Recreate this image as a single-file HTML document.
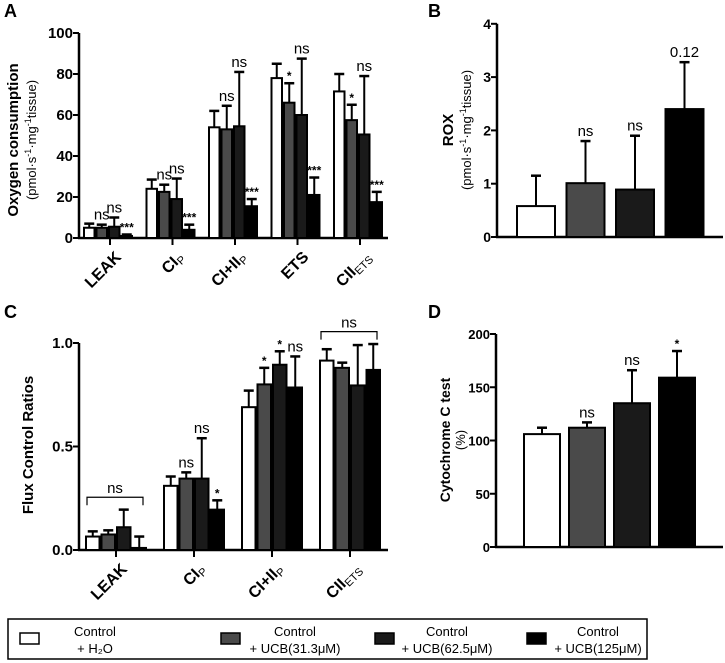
<!DOCTYPE html>
<html><head><meta charset="utf-8"><style>
body{margin:0;background:#fff;}
svg{display:block;font-family:"Liberation Sans",Arial,sans-serif;}
</style></head><body>
<svg id="fig" width="725" height="663" viewBox="0 0 725 663" xmlns="http://www.w3.org/2000/svg">
<g id="root"></g>
</svg>
<script>
const fills=['#ffffff','#4a4a4a','#1a1a1a','#000000'];
// Panel A
const aCats=['LEAK','CI_P','CI+II_P','ETS','CII_ETS'];
const aMeans=[[5,5,5.5,1],[24,22.5,19,4],[54,53,54.5,15.5],[78,66,60,21],[71.5,57.5,50.5,17.5]];
const aErrs=[[2,1.5,4.5,0.7],[4.5,3.5,10,2.5],[8,11.5,26.5,3.5],[7,9.5,27.5,8.5],[8.5,7.5,28.5,5]];
const aSig=[['','ns','ns','***'],['','ns','ns','***'],['','ns','ns','***'],['','*','ns','***'],['','*','ns','***']];
const aTicks=[0,20,40,60,80,100];
// Panel B
const bMeans=[0.58,1.01,0.89,2.4];
const bErrs=[0.57,0.79,1.01,0.88];
const bSig=['','ns','ns','0.12'];
const bTicks=[0,1,2,3,4];
// Panel C
const cCats=['LEAK','CI_P','CI+II_P','CII_ETS'];
const cMeans=[[0.065,0.075,0.11,0.01],[0.31,0.345,0.345,0.195],[0.69,0.80,0.895,0.785],[0.915,0.88,0.795,0.87]];
const cErrs=[[0.025,0.02,0.085,0.055],[0.045,0.03,0.195,0.045],[0.08,0.08,0.065,0.15],[0.055,0.025,0.195,0.125]];
const cSig=[['','','',''],['','ns','ns','*'],['','*','*','ns'],['','','','']];
const cTicks=[0,0.5,1.0];
// Panel D
const dMeans=[106,112,135,159];
const dErrs=[6,5,31,25];
const dSig=['','ns','ns','*'];
const dTicks=[0,50,100,150,200];
const legendLabels=[['Control','+ H₂O'],['Control','+ UCB(31.3μM)'],['Control','+ UCB(62.5μM)'],['Control','+ UCB(125μM)']];

const NS='http://www.w3.org/2000/svg';
const root=document.getElementById('root');
function el(tag,attrs,parent,text){const e=document.createElementNS(NS,tag);for(const k in attrs)e.setAttribute(k,attrs[k]);if(text!==undefined)e.textContent=text;(parent||root).appendChild(e);return e;}

function catLabel(g,x,y,name){
  const t=el('text',{x:x,y:y,'font-size':16,'font-weight':'bold','text-anchor':'end',transform:`rotate(-45 ${x} ${y})`},g);
  
  
  const parts=name.split('_');
  el('tspan',{},t,parts[0]);
  if(parts[1]){el('tspan',{'font-size':11,'font-weight':'normal',dy:3},t,parts[1]);}
}
function yAxis(g,x,yf,ticks,fmt,x2,fs){
  el('line',{x1:x,y1:yf(ticks[0])+1,x2:x,y2:yf(ticks[ticks.length-1]),stroke:'#000','stroke-width':2.5},g);
  el('line',{x1:x-1,y1:yf(ticks[0]),x2:x2,y2:yf(ticks[0]),stroke:'#000','stroke-width':2.5},g);
  ticks.forEach(v=>{
    el('line',{x1:x-6,y1:yf(v),x2:x,y2:yf(v),stroke:'#000','stroke-width':2},g);
    const t=el('text',{x:x-6,y:yf(v)+5,'font-size':fs||15,'font-weight':'bold','text-anchor':'end'},g,fmt(v));
    
    
  });
}
function bar(g,x,w,yf,m,e,fill,name,sig,sigSize){
  const y0=yf(0),y=yf(m),ye=yf(m+e);
  el('line',{x1:x+w/2,y1:y,x2:x+w/2,y2:ye,stroke:'#000','stroke-width':2},g);
  el('line',{x1:x+w/2-5,y1:ye,x2:x+w/2+5,y2:ye,stroke:'#000','stroke-width':2.5},g);
  const r=el('rect',{x:x+1,y:y,width:w-2,height:Math.max(0,y0-y),fill:fill,stroke:'#000','stroke-width':2},g);
  
  
  if(sig){const star=sig.indexOf('*')>=0;const t=el('text',{x:x+w/2,y:ye-(star?3:5),'font-size':star?12:sigSize,'text-anchor':'middle','font-weight':star?'bold':'normal'},g,sig);
    
    }
}
function panelLabel(x,y,s){const t=el('text',{x:x,y:y,'font-size':18,'font-weight':'bold'},root,s);
  
  }
function units(g,x,y){
  const t2=el('text',{transform:`translate(${x},${y}) rotate(-90)`,'font-size':13,'text-anchor':'middle'},g);
  
  t2.innerHTML='(pmol·s<tspan dy="-5" font-size="9">-1</tspan><tspan dy="5">·mg</tspan><tspan dy="-5" font-size="9">-1</tspan><tspan dy="5">tissue)</tspan>';
}

// ---- A
{const g=el('g',{});
 const yf=v=>238-v*2.05;
 yAxis(g,79,yf,aTicks,v=>String(v),388);
 const centers=aCats.map((c,i)=>108+i*62.5);
 aCats.forEach((c,i)=>{
  el('line',{x1:centers[i]+2,y1:238,x2:centers[i]+2,y2:245,stroke:'#000','stroke-width':2},g);
  for(let k=0;k<4;k++)bar(g,centers[i]-25+k*12.5,12.5,yf,aMeans[i][k],aErrs[i][k],fills[k],'bar-a-'+i+'-'+k,aSig[i][k],15);
  catLabel(g,centers[i]+14,258,c);
 });
 const t=el('text',{transform:'translate(18,140) rotate(-90)','font-size':15,'font-weight':'bold','text-anchor':'middle'},g,'Oxygen consumption');
 
 units(g,36,140);
}
panelLabel(4,17,'A');
// ---- B
{const g=el('g',{});
 const yf=v=>237-v*53.3;
 yAxis(g,497,yf,bTicks,v=>String(v),723,14);
 bMeans.forEach((m,k)=>bar(g,516+k*49.5,40,yf,m,bErrs[k],fills[k],'bar-b-'+k,bSig[k],15));
 const t=el('text',{transform:'translate(453,130) rotate(-90)','font-size':15,'font-weight':'bold','text-anchor':'middle'},g,'ROX');
 
 units(g,471,130);
}
panelLabel(428,17,'B');
// ---- C
{const g=el('g',{});
 const yf=v=>550-v*207;
 yAxis(g,79,yf,cTicks,v=>v.toFixed(1),388);
 const centers=cCats.map((c,i)=>116+i*78);
 cCats.forEach((c,i)=>{
  el('line',{x1:centers[i],y1:550,x2:centers[i],y2:557,stroke:'#000','stroke-width':2},g);
  for(let k=0;k<4;k++)bar(g,centers[i]-31+k*15.5,15.5,yf,cMeans[i][k],cErrs[i][k],fills[k],'bar-c-'+i+'-'+k,cSig[i][k],15);
  catLabel(g,centers[i]+12,570,c);
 });
 [[0,yf(0.255)],[3,yf(1.055)]].forEach(([i,y])=>{
  const x1=centers[i]-29,x2=centers[i]+27;
  const p=el('path',{d:`M${x1} ${y+8}V${y}H${x2}V${y+8}`,fill:'none',stroke:'#000','stroke-width':1.2},g);
  
  el('text',{x:(x1+x2)/2,y:y-4,'font-size':15,'text-anchor':'middle'},g,'ns');
 });
 const t=el('text',{transform:'translate(33,445) rotate(-90)','font-size':15,'font-weight':'bold','text-anchor':'middle'},g,'Flux Control Ratios');
 
}
panelLabel(4,318,'C');
// ---- D
{const g=el('g',{});
 const yf=v=>547-v*1.065;
 yAxis(g,496,yf,dTicks,v=>String(v),723,13);
 dMeans.forEach((m,k)=>bar(g,523+k*45,38,yf,m,dErrs[k],fills[k],'bar-d-'+k,dSig[k],15));
 const t=el('text',{transform:'translate(450,440) rotate(-90)','font-size':14,'font-weight':'bold','text-anchor':'middle'},g,'Cytochrome  C test');
 
 const t2=el('text',{transform:'translate(465,440) rotate(-90)','font-size':13,'text-anchor':'middle'},g,'(%)');
 
}
panelLabel(428,318,'D');
// ---- Legend
{const g=el('g',{});
 el('rect',{x:8,y:619,width:639,height:40,fill:'#fff',stroke:'#000','stroke-width':1.5},g);
 const sx=[20,221,375,527],tx=[95,295,447,598];
 legendLabels.forEach((lab,k)=>{
  const r=el('rect',{x:sx[k],y:633,width:19,height:11,fill:fills[k],stroke:'#000','stroke-width':1.5},g);
  
  const t=el('text',{x:tx[k],y:636,'font-size':13,'text-anchor':'middle'},g,lab[0]);
  
  el('text',{x:tx[k],y:653,'font-size':13,'text-anchor':'middle'},g,lab[1]);
 });
}
</script>
</body></html>
